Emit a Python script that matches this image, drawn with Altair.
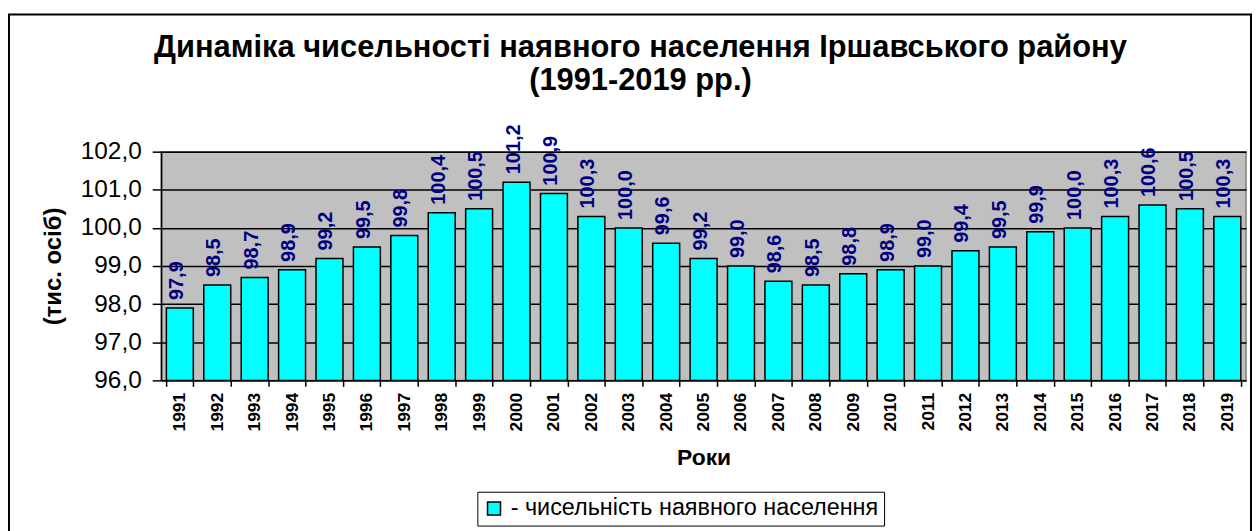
import altair as alt
import pandas as pd

years = ["1991", "1992", "1993", "1994", "1995", "1996", "1997", "1998", "1999", "2000",
         "2001", "2002", "2003", "2004", "2005", "2006", "2007", "2008", "2009", "2010",
         "2011", "2012", "2013", "2014", "2015", "2016", "2017", "2018", "2019"]
values = [97.9, 98.5, 98.7, 98.9, 99.2, 99.5, 99.8, 100.4, 100.5, 101.2,
          100.9, 100.3, 100.0, 99.6, 99.2, 99.0, 98.6, 98.5, 98.8, 98.9,
          99.0, 99.4, 99.5, 99.9, 100.0, 100.3, 100.6, 100.5, 100.3]
y_ticks = [96, 97, 98, 99, 100, 101, 102]
y_min = 96
series_name = "- чисельність наявного населення"
title_line1 = "Динаміка чисельності наявного населення Іршавського району"
title_line2 = "(1991-2019 рр.)"

FONT = "Liberation Sans"

df = pd.DataFrame({"year": years, "value": values, "series": series_name})

base = alt.Chart(df).transform_calculate(
    label="replace(format(datum.value, '.1f'), '.', ',')"
)

x_enc = alt.X(
    "year:O",
    scale=alt.Scale(paddingInner=0.28, paddingOuter=0.14),
    axis=alt.Axis(
        title="Роки", titleFont=FONT, titleFontSize=23, titleFontWeight="bold",
        titleColor="black", titlePadding=16,
        labelAngle=-90, labelFont=FONT, labelFontSize=17.5, labelFontWeight="bold",
        labelColor="black", labelPadding=6, labelOverlap=False,
        tickBand="extent", tickSize=6, tickColor="black", tickWidth=1.5,
        domainColor="black", domainWidth=1.5,
    ),
)

y_enc = alt.Y(
    "value:Q",
    scale=alt.Scale(domain=[96, 102], zero=False, nice=False),
    axis=alt.Axis(
        title="(тис. осіб)", titleFont=FONT, titleFontSize=24, titleFontWeight="bold",
        titleColor="black", titlePadding=15,
        values=y_ticks, tickCount=7, labelOverlap=False,
        labelExpr="replace(format(datum.value, '.1f'), '.', ',')",
        labelFont=FONT, labelFontSize=24.5, labelColor="black", labelPadding=11,
        tickSize=9, tickColor="black", tickWidth=1.5,
        domainColor="black", domainWidth=1.5,
        grid=True, gridColor="black", gridWidth=1.5,
    ),
)

bars = base.mark_bar(stroke="black", strokeWidth=1.5).encode(
    x=x_enc,
    y=y_enc,
    y2=alt.Y2(datum=y_min),
    color=alt.Color(
        "series:N",
        scale=alt.Scale(range=["#00ffff"]),
        legend=alt.Legend(
            title=None, orient="none", legendX=318, legendY=342,
            direction="horizontal",
            strokeColor="black", padding=5, fillColor="white",
            symbolType="square", symbolSize=170, symbolStrokeColor="black",
            symbolStrokeWidth=1.5, symbolOpacity=1,
            labelFont=FONT, labelFontSize=23.5, labelColor="black", labelOffset=5,
            labelLimit=700,
        ),
    ),
)

labels = base.mark_text(
    angle=270, align="left", baseline="middle", dx=8, dy=-3,
    font=FONT, fontSize=20, fontWeight="bold", color="#000080",
).encode(
    x=x_enc,
    y=y_enc,
    text="label:N",
)

frame = alt.Chart(pd.DataFrame({"k": [0]})).mark_rect(
    fillOpacity=0, stroke="black", strokeWidth=2
).encode(
    x=alt.value(-153), x2=alt.value(1096), y=alt.value(-138), y2=alt.value(420)
)

title1 = alt.Chart(pd.DataFrame({"t": [title_line1]})).mark_text(
    font=FONT, fontSize=31, fontWeight="bold", color="black",
    align="center", baseline="alphabetic",
).encode(x=alt.value(482), y=alt.value(-95), text="t:N")
title2 = alt.Chart(pd.DataFrame({"t": [title_line2]})).mark_text(
    font=FONT, fontSize=31, fontWeight="bold", color="black",
    align="center", baseline="alphabetic",
).encode(x=alt.value(482), y=alt.value(-62), text="t:N")

chart = alt.layer(bars, labels, frame, title1, title2).properties(
    width=1091,
    height=230,
    autosize=alt.AutoSizeParams(type="none"),
    padding={"left": 154, "top": 143, "right": 6, "bottom": 150},
).configure_view(
    fill="#c0c0c0", stroke="#808080", strokeWidth=1.5
)

chart.save("out.html", embed_options={"renderer": "svg", "actions": False})
